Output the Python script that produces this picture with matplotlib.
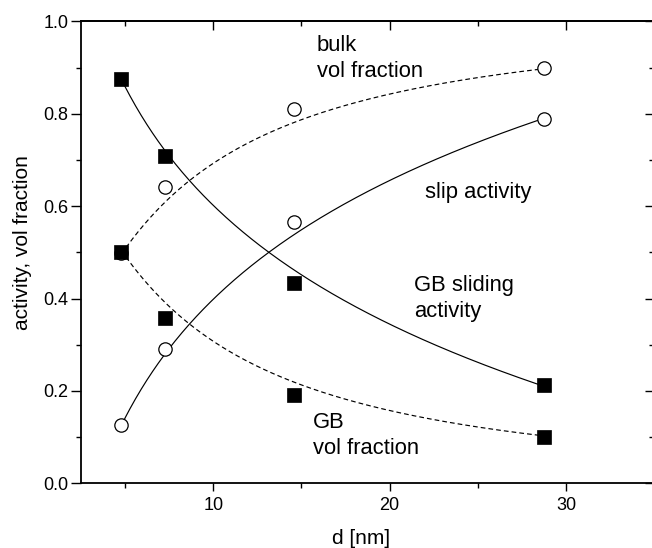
import numpy as np
import matplotlib
matplotlib.use("Agg")
import matplotlib.pyplot as plt
from matplotlib.ticker import MultipleLocator

plt.rcParams['font.family'] = ['Liberation Sans', 'DejaVu Sans']

# grain size and measured quantities
d_nm = [4.8, 7.25, 14.6, 28.75]
gb_sliding_activity = [0.875, 0.709, 0.433, 0.213]
slip_activity = [0.126, 0.291, 0.566, 0.789]
gb_vol_fraction = [0.501, 0.358, 0.191, 0.101]
bulk_vol_fraction = [0.498, 0.641, 0.810, 0.898]

# fit coefficients (polynomials in ln d)
slip_fit = [0.371, -0.456]              # slip = b*ln(d) + a
gb_vol_fit = [-0.205, 0.1215, -0.3722]  # ln(f_GB) = c2*ln(d)^2 + c1*ln(d) + c0

x_ticks = [10, 20, 30]
y_ticks = [0.0, 0.2, 0.4, 0.6, 0.8, 1.0]

W, H = 652, 548
fig = plt.figure(figsize=(W / 100, H / 100), dpi=100)
ax_l, ax_r, ax_t, ax_b = 80.9, 654.2, 21.3, 483.3
ax = fig.add_axes([ax_l / W, 1 - ax_b / H, (ax_r - ax_l) / W, (ax_b - ax_t) / H])

dd = np.linspace(d_nm[0], d_nm[-1], 300)
slip_curve = np.polyval(slip_fit, np.log(dd))
gbv_curve = np.exp(np.polyval(gb_vol_fit, np.log(dd)))

lw = 0.85
ax.plot(dd, 1 - slip_curve, color='black', lw=lw)
ax.plot(dd, slip_curve, color='black', lw=lw)
ax.plot(dd, gbv_curve, color='black', lw=lw, ls=(0, (4.0, 2.6)))
ax.plot(dd, 1 - gbv_curve, color='black', lw=lw, ls=(0, (4.0, 2.6)))

ms = 9.6
for ys in (slip_activity, bulk_vol_fraction):
    ax.plot(d_nm, ys, ls='none', marker='o', ms=ms, mfc='white', mec='black', mew=0.9)
for ys in (gb_sliding_activity, gb_vol_fraction):
    ax.plot(d_nm, ys, ls='none', marker='s', ms=ms, mfc='black', mec='black', mew=0.5)

ax.set_xlim(2.5, 35)
ax.set_ylim(0.0, 1.0)
ax.set_xticks(x_ticks)
ax.set_yticks(y_ticks)
ax.set_yticklabels([f"{v:.1f}" for v in y_ticks])
ax.xaxis.set_minor_locator(MultipleLocator(5))
ax.yaxis.set_minor_locator(MultipleLocator(0.1))

for s in ax.spines.values():
    s.set_linewidth(1.3)

ax.tick_params(which='both', direction='out', top=False, right=False,
               width=1.0, labelsize=13)
ax.tick_params(axis='x', which='major', length=6.0, pad=4)
ax.tick_params(axis='x', which='minor', length=3.6)
ax.tick_params(axis='y', which='major', length=7.0, pad=2)
ax.tick_params(axis='y', which='minor', length=3.6)

secx = ax.secondary_xaxis('top')
secx.set_xticks(x_ticks)
secx.xaxis.set_minor_locator(MultipleLocator(5))
secx.tick_params(which='both', direction='in', labeltop=False, width=1.0)
secx.tick_params(which='major', length=6.7)
secx.tick_params(which='minor', length=3.8)
secx.spines['top'].set_linewidth(1.3)

secy = ax.secondary_yaxis('right')
secy.set_yticks(y_ticks)
secy.yaxis.set_minor_locator(MultipleLocator(0.1))
secy.tick_params(which='both', direction='in', labelright=False, width=1.0)
secy.tick_params(which='major', length=6.7)
secy.tick_params(which='minor', length=3.8)
secy.spines['right'].set_linewidth(1.3)

ax.set_xlabel('d [nm]', fontsize=15, va='baseline')
ax.xaxis.set_label_coords((361 - ax_l) / (ax_r - ax_l), (ax_b - 543.5) / (ax_b - ax_t))
ax.set_ylabel('activity, vol fraction', fontsize=15)
ax.yaxis.set_label_coords((32 - ax_l) / (ax_r - ax_l), (ax_b - 242.5) / (ax_b - ax_t))

# annotations: y is the baseline of the last line
fs = 15.8
ls_ = 1.32
ax.text(15.88, 0.879, 'bulk\nvol fraction', fontsize=fs, va='baseline', ha='left', linespacing=ls_)
ax.text(22.0, 0.617, 'slip activity', fontsize=fs, va='baseline', ha='left')
ax.text(21.38, 0.360, 'GB sliding\nactivity', fontsize=fs, va='baseline', ha='left', linespacing=ls_)
ax.text(15.63, 0.0634, 'GB\nvol fraction', fontsize=fs, va='baseline', ha='left', linespacing=ls_)

fig.savefig('out.png', dpi=100)
